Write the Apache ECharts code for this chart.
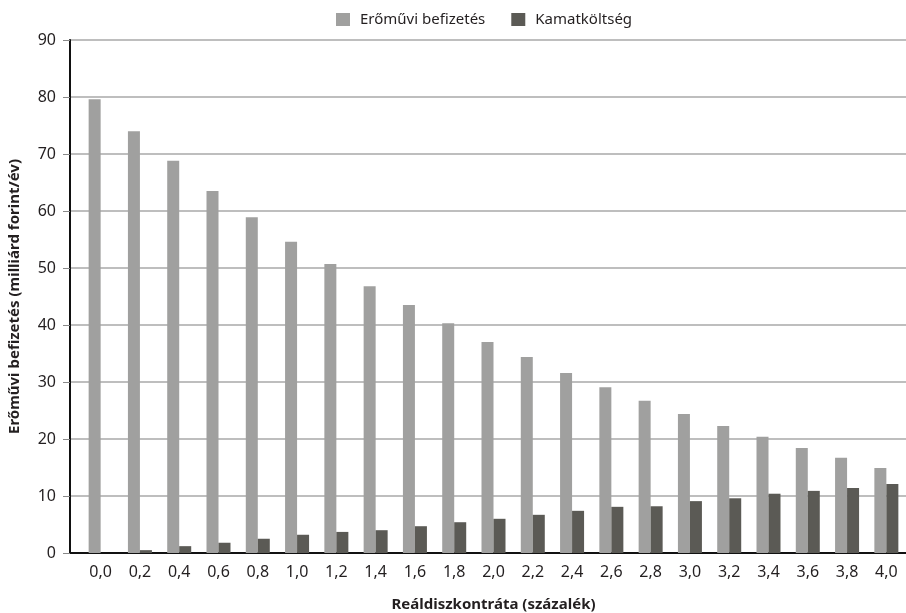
<!DOCTYPE html>
<html>
<head>
<meta charset="utf-8">
<script src="https://cdn.jsdelivr.net/npm/echarts@6/dist/echarts.min.js"></script>
<style>
  html, body { margin: 0; padding: 0; background: #ffffff; }
  #chart { width: 906px; height: 613px; }
</style>
</head>
<body>
<div id="chart"></div>
<script>
// Reáldiszkontráta (százalék)
const categories = ['0,0','0,2','0,4','0,6','0,8','1,0','1,2','1,4','1,6','1,8','2,0',
                    '2,2','2,4','2,6','2,8','3,0','3,2','3,4','3,6','3,8','4,0'];
// Erőművi befizetés, milliárd forint/év
const befizetes = [79.6, 74.0, 68.8, 63.5, 58.9, 54.6, 50.7, 46.8, 43.5, 40.3, 37.0,
                   34.4, 31.6, 29.1, 26.7, 24.4, 22.3, 20.4, 18.4, 16.7, 14.9];
// Kamatköltség, milliárd forint/év
const kamat = [0.0, 0.5, 1.2, 1.8, 2.5, 3.2, 3.7, 4.0, 4.7, 5.4, 6.0,
               6.7, 7.4, 8.1, 8.2, 9.1, 9.6, 10.4, 10.9, 11.4, 12.1];
const yTicks = { min: 0, max: 90, interval: 10 };

const FONT = '"Noto Sans", "Liberation Sans", sans-serif';
const chart = echarts.init(document.getElementById('chart'), null, { renderer: 'canvas' });

chart.setOption({
  animation: false,
  textStyle: { fontFamily: FONT },
  legend: {
    top: 7,
    left: 331,
    icon: 'rect',
    itemWidth: 14,
    itemHeight: 13,
    itemGap: 26,
    textStyle: { fontFamily: FONT, fontSize: 15, color: '#231f20', padding: [0, 0, 0, 5] },
    data: ['Erőművi befizetés', 'Kamatköltség']
  },
  grid: [
    // frame grid: axis lines, ticks and gridlines
    { left: 70, right: 0, top: 40, bottom: 60, containLabel: false, outerBoundsMode: 'none' },
    // bar grid
    { left: 81, right: 0, top: 40, bottom: 60, containLabel: false, outerBoundsMode: 'none' }
  ],
  xAxis: [
    {
      gridIndex: 0,
      type: 'category',
      data: categories,
      axisLine: { show: true, lineStyle: { color: '#111111', width: 2 } },
      axisTick: { show: false },
      axisLabel: { show: false },
      splitLine: { show: false }
    },
    {
      gridIndex: 1,
      type: 'category',
      data: categories,
      axisLine: { show: false },
      axisTick: { show: false },
      axisLabel: { fontFamily: FONT, fontSize: 16, color: '#231f20', margin: 11 },
      name: 'Reáldiszkontráta (százalék)',
      nameLocation: 'middle',
      nameGap: 44,
      nameTextStyle: { fontFamily: FONT, fontSize: 15, fontWeight: 'bold', color: '#231f20' }
    }
  ],
  yAxis: [
    {
      gridIndex: 0,
      type: 'value',
      min: yTicks.min,
      max: yTicks.max,
      interval: yTicks.interval,
      axisLine: { show: true, lineStyle: { color: '#111111', width: 2 } },
      axisTick: { show: true, length: 7, lineStyle: { color: '#888888', width: 1 } },
      axisLabel: { fontFamily: FONT, fontSize: 16, color: '#231f20', margin: 14 },
      splitLine: { show: true, lineStyle: { color: '#a8a8a8', width: 1.5 } },
      name: 'Erőművi befizetés (milliárd forint/év)',
      nameLocation: 'middle',
      nameGap: 48,
      nameTextStyle: { fontFamily: FONT, fontSize: 15, fontWeight: 'bold', color: '#231f20' }
    },
    {
      gridIndex: 1,
      type: 'value',
      min: yTicks.min,
      max: yTicks.max,
      interval: yTicks.interval,
      show: false,
      splitLine: { show: false }
    }
  ],
  series: [
    {
      name: 'Erőművi befizetés',
      type: 'bar',
      xAxisIndex: 1,
      yAxisIndex: 1,
      data: befizetes,
      barWidth: 12,
      barGap: '0%',
      itemStyle: { color: '#a0a09f' }
    },
    {
      name: 'Kamatköltség',
      type: 'bar',
      xAxisIndex: 1,
      yAxisIndex: 1,
      data: kamat,
      barWidth: 12,
      barGap: '0%',
      itemStyle: { color: '#5b5a55' }
    }
  ]
});
</script>
</body>
</html>
